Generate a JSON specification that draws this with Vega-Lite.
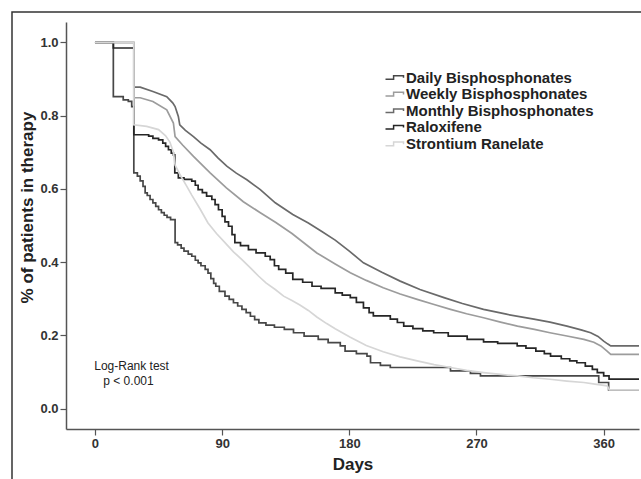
{
  "$schema": "https://vega.github.io/schema/vega-lite/v6.json",
  "width": 640,
  "height": 480,
  "autosize": {"type": "none"},
  "padding": {"left": 12, "top": 12, "right": 0, "bottom": 0},
  "background": "white",
  "config": {
    "font": "Liberation Sans",
    "view": {"stroke": "#333333", "strokeWidth": 1.5},
    "axis": {"grid": false}
  },
  "datasets": {
    "km": [
      {"drug": "Daily Bisphosphonates", "day": 0, "value": 1.0},
      {"drug": "Daily Bisphosphonates", "day": 13, "value": 0.852},
      {"drug": "Daily Bisphosphonates", "day": 20, "value": 0.843},
      {"drug": "Daily Bisphosphonates", "day": 23.6, "value": 0.839},
      {"drug": "Daily Bisphosphonates", "day": 26, "value": 0.825},
      {"drug": "Daily Bisphosphonates", "day": 27.5, "value": 0.644},
      {"drug": "Daily Bisphosphonates", "day": 30, "value": 0.635},
      {"drug": "Daily Bisphosphonates", "day": 32, "value": 0.622},
      {"drug": "Daily Bisphosphonates", "day": 34, "value": 0.607},
      {"drug": "Daily Bisphosphonates", "day": 35.5, "value": 0.589},
      {"drug": "Daily Bisphosphonates", "day": 37, "value": 0.582},
      {"drug": "Daily Bisphosphonates", "day": 39, "value": 0.571},
      {"drug": "Daily Bisphosphonates", "day": 41, "value": 0.562},
      {"drug": "Daily Bisphosphonates", "day": 43, "value": 0.552},
      {"drug": "Daily Bisphosphonates", "day": 45, "value": 0.543},
      {"drug": "Daily Bisphosphonates", "day": 47, "value": 0.535},
      {"drug": "Daily Bisphosphonates", "day": 49, "value": 0.528},
      {"drug": "Daily Bisphosphonates", "day": 51, "value": 0.522},
      {"drug": "Daily Bisphosphonates", "day": 53.5, "value": 0.516},
      {"drug": "Daily Bisphosphonates", "day": 56.7, "value": 0.453},
      {"drug": "Daily Bisphosphonates", "day": 58.5, "value": 0.447},
      {"drug": "Daily Bisphosphonates", "day": 61, "value": 0.438},
      {"drug": "Daily Bisphosphonates", "day": 63, "value": 0.43},
      {"drug": "Daily Bisphosphonates", "day": 66, "value": 0.422},
      {"drug": "Daily Bisphosphonates", "day": 68.5, "value": 0.416},
      {"drug": "Daily Bisphosphonates", "day": 71, "value": 0.405},
      {"drug": "Daily Bisphosphonates", "day": 73, "value": 0.398},
      {"drug": "Daily Bisphosphonates", "day": 75, "value": 0.39},
      {"drug": "Daily Bisphosphonates", "day": 78, "value": 0.38},
      {"drug": "Daily Bisphosphonates", "day": 80, "value": 0.37},
      {"drug": "Daily Bisphosphonates", "day": 82, "value": 0.355},
      {"drug": "Daily Bisphosphonates", "day": 84, "value": 0.342},
      {"drug": "Daily Bisphosphonates", "day": 85.5, "value": 0.334},
      {"drug": "Daily Bisphosphonates", "day": 88, "value": 0.32},
      {"drug": "Daily Bisphosphonates", "day": 92, "value": 0.307},
      {"drug": "Daily Bisphosphonates", "day": 95, "value": 0.298},
      {"drug": "Daily Bisphosphonates", "day": 98, "value": 0.289},
      {"drug": "Daily Bisphosphonates", "day": 101, "value": 0.28},
      {"drug": "Daily Bisphosphonates", "day": 104, "value": 0.271},
      {"drug": "Daily Bisphosphonates", "day": 107, "value": 0.262},
      {"drug": "Daily Bisphosphonates", "day": 110, "value": 0.252},
      {"drug": "Daily Bisphosphonates", "day": 113, "value": 0.243},
      {"drug": "Daily Bisphosphonates", "day": 116, "value": 0.234},
      {"drug": "Daily Bisphosphonates", "day": 121, "value": 0.228},
      {"drug": "Daily Bisphosphonates", "day": 127, "value": 0.222},
      {"drug": "Daily Bisphosphonates", "day": 134, "value": 0.216},
      {"drug": "Daily Bisphosphonates", "day": 140.5, "value": 0.207},
      {"drug": "Daily Bisphosphonates", "day": 148, "value": 0.198},
      {"drug": "Daily Bisphosphonates", "day": 158, "value": 0.189},
      {"drug": "Daily Bisphosphonates", "day": 165, "value": 0.18},
      {"drug": "Daily Bisphosphonates", "day": 173.6, "value": 0.171},
      {"drug": "Daily Bisphosphonates", "day": 177, "value": 0.157},
      {"drug": "Daily Bisphosphonates", "day": 185, "value": 0.15},
      {"drug": "Daily Bisphosphonates", "day": 192.5, "value": 0.143},
      {"drug": "Daily Bisphosphonates", "day": 195, "value": 0.125},
      {"drug": "Daily Bisphosphonates", "day": 202, "value": 0.118},
      {"drug": "Daily Bisphosphonates", "day": 209, "value": 0.112},
      {"drug": "Daily Bisphosphonates", "day": 251.6, "value": 0.103},
      {"drug": "Daily Bisphosphonates", "day": 265.7, "value": 0.096},
      {"drug": "Daily Bisphosphonates", "day": 272.8, "value": 0.089},
      {"drug": "Daily Bisphosphonates", "day": 356.5, "value": 0.071},
      {"drug": "Daily Bisphosphonates", "day": 363.5, "value": 0.051},
      {"drug": "Daily Bisphosphonates", "day": 385, "value": 0.051},

      {"drug": "Raloxifene", "day": 0, "value": 1.0},
      {"drug": "Raloxifene", "day": 13, "value": 0.985},
      {"drug": "Raloxifene", "day": 27.5, "value": 0.748},
      {"drug": "Raloxifene", "day": 38, "value": 0.744},
      {"drug": "Raloxifene", "day": 41, "value": 0.738},
      {"drug": "Raloxifene", "day": 45, "value": 0.734},
      {"drug": "Raloxifene", "day": 48, "value": 0.725},
      {"drug": "Raloxifene", "day": 50, "value": 0.716},
      {"drug": "Raloxifene", "day": 52, "value": 0.707},
      {"drug": "Raloxifene", "day": 54, "value": 0.698},
      {"drug": "Raloxifene", "day": 55.5, "value": 0.693},
      {"drug": "Raloxifene", "day": 56.5, "value": 0.644},
      {"drug": "Raloxifene", "day": 59, "value": 0.63},
      {"drug": "Raloxifene", "day": 63, "value": 0.626},
      {"drug": "Raloxifene", "day": 68.5, "value": 0.621},
      {"drug": "Raloxifene", "day": 71, "value": 0.61},
      {"drug": "Raloxifene", "day": 73, "value": 0.598},
      {"drug": "Raloxifene", "day": 76, "value": 0.59},
      {"drug": "Raloxifene", "day": 79, "value": 0.58},
      {"drug": "Raloxifene", "day": 82.7, "value": 0.571},
      {"drug": "Raloxifene", "day": 85, "value": 0.557},
      {"drug": "Raloxifene", "day": 87.4, "value": 0.543},
      {"drug": "Raloxifene", "day": 90, "value": 0.525},
      {"drug": "Raloxifene", "day": 92, "value": 0.51},
      {"drug": "Raloxifene", "day": 94.5, "value": 0.498},
      {"drug": "Raloxifene", "day": 97, "value": 0.475},
      {"drug": "Raloxifene", "day": 99, "value": 0.453},
      {"drug": "Raloxifene", "day": 103, "value": 0.445},
      {"drug": "Raloxifene", "day": 108.6, "value": 0.434},
      {"drug": "Raloxifene", "day": 114, "value": 0.425},
      {"drug": "Raloxifene", "day": 120.5, "value": 0.416},
      {"drug": "Raloxifene", "day": 124, "value": 0.407},
      {"drug": "Raloxifene", "day": 127, "value": 0.39},
      {"drug": "Raloxifene", "day": 130, "value": 0.38},
      {"drug": "Raloxifene", "day": 135, "value": 0.37},
      {"drug": "Raloxifene", "day": 140, "value": 0.353},
      {"drug": "Raloxifene", "day": 147, "value": 0.345},
      {"drug": "Raloxifene", "day": 153.6, "value": 0.334},
      {"drug": "Raloxifene", "day": 160, "value": 0.328},
      {"drug": "Raloxifene", "day": 170, "value": 0.316},
      {"drug": "Raloxifene", "day": 175, "value": 0.31},
      {"drug": "Raloxifene", "day": 180.7, "value": 0.303},
      {"drug": "Raloxifene", "day": 185, "value": 0.29},
      {"drug": "Raloxifene", "day": 190, "value": 0.275},
      {"drug": "Raloxifene", "day": 194, "value": 0.262},
      {"drug": "Raloxifene", "day": 197, "value": 0.253},
      {"drug": "Raloxifene", "day": 209, "value": 0.244},
      {"drug": "Raloxifene", "day": 214, "value": 0.235},
      {"drug": "Raloxifene", "day": 218.5, "value": 0.225},
      {"drug": "Raloxifene", "day": 225, "value": 0.218},
      {"drug": "Raloxifene", "day": 232, "value": 0.212},
      {"drug": "Raloxifene", "day": 239.7, "value": 0.207},
      {"drug": "Raloxifene", "day": 250, "value": 0.198},
      {"drug": "Raloxifene", "day": 263.4, "value": 0.189},
      {"drug": "Raloxifene", "day": 275, "value": 0.182},
      {"drug": "Raloxifene", "day": 285, "value": 0.178},
      {"drug": "Raloxifene", "day": 298.8, "value": 0.171},
      {"drug": "Raloxifene", "day": 305, "value": 0.165},
      {"drug": "Raloxifene", "day": 312, "value": 0.157},
      {"drug": "Raloxifene", "day": 318, "value": 0.15},
      {"drug": "Raloxifene", "day": 322.4, "value": 0.143},
      {"drug": "Raloxifene", "day": 330, "value": 0.136},
      {"drug": "Raloxifene", "day": 336, "value": 0.13},
      {"drug": "Raloxifene", "day": 341, "value": 0.125},
      {"drug": "Raloxifene", "day": 347, "value": 0.116},
      {"drug": "Raloxifene", "day": 352, "value": 0.107},
      {"drug": "Raloxifene", "day": 355.5, "value": 0.098},
      {"drug": "Raloxifene", "day": 360, "value": 0.089},
      {"drug": "Raloxifene", "day": 363.8, "value": 0.08},
      {"drug": "Raloxifene", "day": 385, "value": 0.08},

      {"drug": "Monthly Bisphosphonates", "day": 0, "value": 1.0},
      {"drug": "Monthly Bisphosphonates", "day": 27.5, "value": 1.0},
      {"drug": "Monthly Bisphosphonates", "day": 27.5, "value": 0.878},
      {"drug": "Monthly Bisphosphonates", "day": 32, "value": 0.878},
      {"drug": "Monthly Bisphosphonates", "day": 41, "value": 0.866},
      {"drug": "Monthly Bisphosphonates", "day": 50.8, "value": 0.852},
      {"drug": "Monthly Bisphosphonates", "day": 55, "value": 0.835},
      {"drug": "Monthly Bisphosphonates", "day": 56.7, "value": 0.825},
      {"drug": "Monthly Bisphosphonates", "day": 59, "value": 0.798},
      {"drug": "Monthly Bisphosphonates", "day": 60, "value": 0.775},
      {"drug": "Monthly Bisphosphonates", "day": 64, "value": 0.76},
      {"drug": "Monthly Bisphosphonates", "day": 69.7, "value": 0.743},
      {"drug": "Monthly Bisphosphonates", "day": 75, "value": 0.725},
      {"drug": "Monthly Bisphosphonates", "day": 81.5, "value": 0.707},
      {"drug": "Monthly Bisphosphonates", "day": 87, "value": 0.685},
      {"drug": "Monthly Bisphosphonates", "day": 93.3, "value": 0.662},
      {"drug": "Monthly Bisphosphonates", "day": 100, "value": 0.643},
      {"drug": "Monthly Bisphosphonates", "day": 107.5, "value": 0.625},
      {"drug": "Monthly Bisphosphonates", "day": 117, "value": 0.598},
      {"drug": "Monthly Bisphosphonates", "day": 127.6, "value": 0.562},
      {"drug": "Monthly Bisphosphonates", "day": 140, "value": 0.53},
      {"drug": "Monthly Bisphosphonates", "day": 151, "value": 0.507},
      {"drug": "Monthly Bisphosphonates", "day": 160, "value": 0.485},
      {"drug": "Monthly Bisphosphonates", "day": 170, "value": 0.46},
      {"drug": "Monthly Bisphosphonates", "day": 180, "value": 0.43},
      {"drug": "Monthly Bisphosphonates", "day": 190, "value": 0.398},
      {"drug": "Monthly Bisphosphonates", "day": 203, "value": 0.372},
      {"drug": "Monthly Bisphosphonates", "day": 216, "value": 0.348},
      {"drug": "Monthly Bisphosphonates", "day": 230, "value": 0.325},
      {"drug": "Monthly Bisphosphonates", "day": 247, "value": 0.303},
      {"drug": "Monthly Bisphosphonates", "day": 260, "value": 0.287},
      {"drug": "Monthly Bisphosphonates", "day": 275, "value": 0.271},
      {"drug": "Monthly Bisphosphonates", "day": 292, "value": 0.257},
      {"drug": "Monthly Bisphosphonates", "day": 310.6, "value": 0.244},
      {"drug": "Monthly Bisphosphonates", "day": 322, "value": 0.236},
      {"drug": "Monthly Bisphosphonates", "day": 334, "value": 0.225},
      {"drug": "Monthly Bisphosphonates", "day": 344, "value": 0.215},
      {"drug": "Monthly Bisphosphonates", "day": 350.8, "value": 0.207},
      {"drug": "Monthly Bisphosphonates", "day": 356, "value": 0.197},
      {"drug": "Monthly Bisphosphonates", "day": 360, "value": 0.184},
      {"drug": "Monthly Bisphosphonates", "day": 363, "value": 0.176},
      {"drug": "Monthly Bisphosphonates", "day": 365, "value": 0.171},
      {"drug": "Monthly Bisphosphonates", "day": 385, "value": 0.171},

      {"drug": "Weekly Bisphosphonates", "day": 0, "value": 1.0},
      {"drug": "Weekly Bisphosphonates", "day": 27.5, "value": 1.0},
      {"drug": "Weekly Bisphosphonates", "day": 27.5, "value": 0.849},
      {"drug": "Weekly Bisphosphonates", "day": 32, "value": 0.849},
      {"drug": "Weekly Bisphosphonates", "day": 41, "value": 0.839},
      {"drug": "Weekly Bisphosphonates", "day": 50.8, "value": 0.816},
      {"drug": "Weekly Bisphosphonates", "day": 55.5, "value": 0.78},
      {"drug": "Weekly Bisphosphonates", "day": 56.7, "value": 0.743},
      {"drug": "Weekly Bisphosphonates", "day": 62, "value": 0.72},
      {"drug": "Weekly Bisphosphonates", "day": 69.7, "value": 0.689},
      {"drug": "Weekly Bisphosphonates", "day": 81.5, "value": 0.644},
      {"drug": "Weekly Bisphosphonates", "day": 93, "value": 0.603},
      {"drug": "Weekly Bisphosphonates", "day": 105, "value": 0.565},
      {"drug": "Weekly Bisphosphonates", "day": 117, "value": 0.535},
      {"drug": "Weekly Bisphosphonates", "day": 128, "value": 0.508},
      {"drug": "Weekly Bisphosphonates", "day": 139.4, "value": 0.478},
      {"drug": "Weekly Bisphosphonates", "day": 157, "value": 0.425},
      {"drug": "Weekly Bisphosphonates", "day": 170, "value": 0.395},
      {"drug": "Weekly Bisphosphonates", "day": 180.7, "value": 0.371},
      {"drug": "Weekly Bisphosphonates", "day": 192, "value": 0.35},
      {"drug": "Weekly Bisphosphonates", "day": 204, "value": 0.33},
      {"drug": "Weekly Bisphosphonates", "day": 216, "value": 0.313},
      {"drug": "Weekly Bisphosphonates", "day": 228, "value": 0.298},
      {"drug": "Weekly Bisphosphonates", "day": 240, "value": 0.284},
      {"drug": "Weekly Bisphosphonates", "day": 251.6, "value": 0.271},
      {"drug": "Weekly Bisphosphonates", "day": 263, "value": 0.259},
      {"drug": "Weekly Bisphosphonates", "day": 275, "value": 0.248},
      {"drug": "Weekly Bisphosphonates", "day": 287, "value": 0.236},
      {"drug": "Weekly Bisphosphonates", "day": 299, "value": 0.225},
      {"drug": "Weekly Bisphosphonates", "day": 311, "value": 0.216},
      {"drug": "Weekly Bisphosphonates", "day": 322, "value": 0.207},
      {"drug": "Weekly Bisphosphonates", "day": 334, "value": 0.198},
      {"drug": "Weekly Bisphosphonates", "day": 346, "value": 0.189},
      {"drug": "Weekly Bisphosphonates", "day": 353, "value": 0.181},
      {"drug": "Weekly Bisphosphonates", "day": 358, "value": 0.171},
      {"drug": "Weekly Bisphosphonates", "day": 362, "value": 0.158},
      {"drug": "Weekly Bisphosphonates", "day": 365, "value": 0.148},
      {"drug": "Weekly Bisphosphonates", "day": 385, "value": 0.148},

      {"drug": "Strontium Ranelate", "day": 0, "value": 1.0},
      {"drug": "Strontium Ranelate", "day": 27.5, "value": 1.0},
      {"drug": "Strontium Ranelate", "day": 27.5, "value": 0.775},
      {"drug": "Strontium Ranelate", "day": 36.6, "value": 0.771},
      {"drug": "Strontium Ranelate", "day": 45, "value": 0.762},
      {"drug": "Strontium Ranelate", "day": 50, "value": 0.745},
      {"drug": "Strontium Ranelate", "day": 53, "value": 0.728},
      {"drug": "Strontium Ranelate", "day": 55.5, "value": 0.7},
      {"drug": "Strontium Ranelate", "day": 56.7, "value": 0.665},
      {"drug": "Strontium Ranelate", "day": 60, "value": 0.64},
      {"drug": "Strontium Ranelate", "day": 65, "value": 0.607},
      {"drug": "Strontium Ranelate", "day": 68.5, "value": 0.583},
      {"drug": "Strontium Ranelate", "day": 74.4, "value": 0.545},
      {"drug": "Strontium Ranelate", "day": 80, "value": 0.507},
      {"drug": "Strontium Ranelate", "day": 86, "value": 0.478},
      {"drug": "Strontium Ranelate", "day": 92, "value": 0.453},
      {"drug": "Strontium Ranelate", "day": 98, "value": 0.428},
      {"drug": "Strontium Ranelate", "day": 104, "value": 0.407},
      {"drug": "Strontium Ranelate", "day": 110, "value": 0.384},
      {"drug": "Strontium Ranelate", "day": 115.7, "value": 0.362},
      {"drug": "Strontium Ranelate", "day": 121, "value": 0.343},
      {"drug": "Strontium Ranelate", "day": 127.6, "value": 0.325},
      {"drug": "Strontium Ranelate", "day": 133.5, "value": 0.307},
      {"drug": "Strontium Ranelate", "day": 139.4, "value": 0.295},
      {"drug": "Strontium Ranelate", "day": 145, "value": 0.283},
      {"drug": "Strontium Ranelate", "day": 151, "value": 0.268},
      {"drug": "Strontium Ranelate", "day": 157, "value": 0.25},
      {"drug": "Strontium Ranelate", "day": 164, "value": 0.232},
      {"drug": "Strontium Ranelate", "day": 170, "value": 0.218},
      {"drug": "Strontium Ranelate", "day": 180.7, "value": 0.195},
      {"drug": "Strontium Ranelate", "day": 192, "value": 0.172},
      {"drug": "Strontium Ranelate", "day": 204, "value": 0.155},
      {"drug": "Strontium Ranelate", "day": 216, "value": 0.141},
      {"drug": "Strontium Ranelate", "day": 228, "value": 0.13},
      {"drug": "Strontium Ranelate", "day": 240, "value": 0.12},
      {"drug": "Strontium Ranelate", "day": 251.6, "value": 0.112},
      {"drug": "Strontium Ranelate", "day": 263, "value": 0.104},
      {"drug": "Strontium Ranelate", "day": 275, "value": 0.098},
      {"drug": "Strontium Ranelate", "day": 287, "value": 0.093},
      {"drug": "Strontium Ranelate", "day": 299, "value": 0.089},
      {"drug": "Strontium Ranelate", "day": 310, "value": 0.084},
      {"drug": "Strontium Ranelate", "day": 322, "value": 0.08},
      {"drug": "Strontium Ranelate", "day": 334, "value": 0.075},
      {"drug": "Strontium Ranelate", "day": 346, "value": 0.071},
      {"drug": "Strontium Ranelate", "day": 355, "value": 0.066},
      {"drug": "Strontium Ranelate", "day": 362.6, "value": 0.062},
      {"drug": "Strontium Ranelate", "day": 364, "value": 0.051},
      {"drug": "Strontium Ranelate", "day": 385, "value": 0.051}
    ],
    "notes": [
      {"label": "Log-Rank test", "day": 25.9, "value": 0.115},
      {"label": "p < 0.001", "day": 23.7, "value": 0.074}
    ]
  },
  "layer": [
    {
      "mark": {"type": "rule", "color": "#b5b5b5", "strokeWidth": 1.2},
      "encoding": {
        "x": {"datum": -20.5, "type": "quantitative"},
        "x2": {"datum": 385},
        "y": {"datum": 1.056, "type": "quantitative"}
      }
    },
    {
      "mark": {"type": "rule", "color": "#b5b5b5", "strokeWidth": 1.2},
      "encoding": {
        "x": {"datum": 385, "type": "quantitative"},
        "y": {"datum": -0.056, "type": "quantitative"},
        "y2": {"datum": 1.056}
      }
    },
    {
      "data": {"name": "km"},
      "transform": [{"filter": "datum.drug === 'Daily Bisphosphonates' || datum.drug === 'Raloxifene'"}],
      "mark": {"type": "line", "interpolate": "step-after", "strokeWidth": 1.7},
      "encoding": {
        "x": {
          "field": "day", "type": "quantitative",
          "scale": {"domain": [-20.5, 385], "range": [54, 627], "nice": false, "zero": false},
          "axis": {
            "orient": "bottom", "offset": -63, "values": [0, 90, 180, 270, 360],
            "title": "Days", "titleFontSize": 17, "titleFontWeight": "bold", "titleColor": "#222222", "titlePadding": 6,
            "labelFontSize": 13, "labelFontWeight": "bold", "labelColor": "#333333", "labelPadding": 2,
            "tickSize": 6, "tickColor": "#555555", "domainColor": "#555555", "domainWidth": 1.5, "tickWidth": 1.2
          }
        },
        "y": {
          "field": "value", "type": "quantitative",
          "scale": {"domain": [-0.056, 1.056], "range": [417, 10], "nice": false, "zero": false},
          "axis": {
            "orient": "left", "offset": -54, "values": [0, 0.2, 0.4, 0.6, 0.8, 1.0], "format": ".1f",
            "title": "% of patients in therapy", "titleFontSize": 17, "titleFontWeight": "bold", "titleColor": "#222222", "titlePadding": 3,
            "titleY": 195,
            "labelFontSize": 13, "labelFontWeight": "bold", "labelColor": "#333333", "labelPadding": 2,
            "tickSize": 6, "tickColor": "#555555", "domainColor": "#555555", "domainWidth": 1.5, "tickWidth": 1.2
          }
        },
        "color": {
          "field": "drug", "type": "nominal",
          "scale": {
            "domain": ["Daily Bisphosphonates", "Weekly Bisphosphonates", "Monthly Bisphosphonates", "Raloxifene", "Strontium Ranelate"],
            "range": ["#474747", "#9c9c9c", "#6a6a6a", "#262626", "#d6d6d6"]
          },
          "legend": {
            "title": null, "orient": "none", "legendX": 375, "legendY": 58,
            "symbolType": "M-1.5,0.3H-0.15V-0.3H1.5V0.05", "symbolSize": 144, "symbolStrokeWidth": 1.5,
            "symbolFillColor": "transparent",
            "labelFontSize": 15, "labelFontWeight": "bold", "labelColor": "#222222", "labelOffset": 4, "labelLimit": 0,
            "rowPadding": 0.6
          }
        }
      }
    },
    {
      "data": {"name": "km"},
      "transform": [{"filter": "datum.drug !== 'Daily Bisphosphonates' && datum.drug !== 'Raloxifene'"}],
      "mark": {"type": "line", "strokeWidth": 1.7},
      "encoding": {
        "x": {"field": "day", "type": "quantitative"},
        "y": {"field": "value", "type": "quantitative"},
        "color": {"field": "drug", "type": "nominal"}
      }
    },
    {
      "data": {"name": "notes"},
      "mark": {"type": "text", "fontSize": 12, "color": "#222222", "align": "center", "baseline": "middle"},
      "encoding": {
        "x": {"field": "day", "type": "quantitative"},
        "y": {"field": "value", "type": "quantitative"},
        "text": {"field": "label"}
      }
    }
  ]
}
